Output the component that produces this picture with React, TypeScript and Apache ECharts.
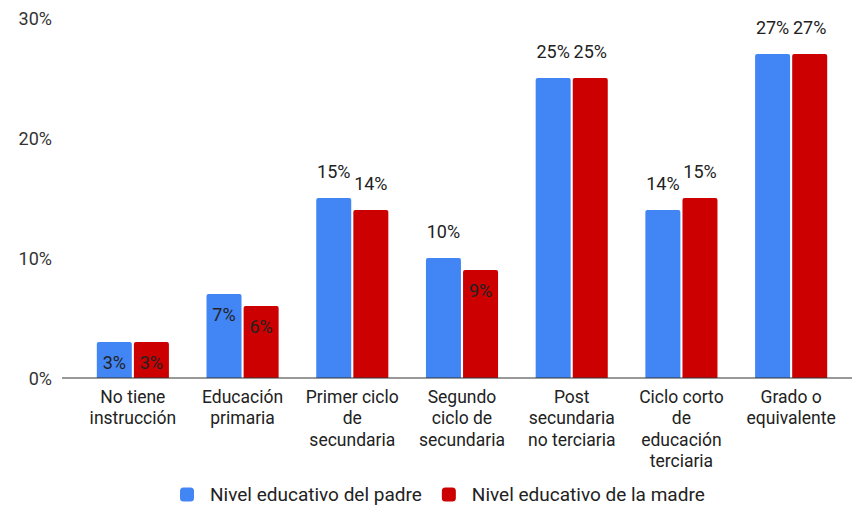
import React, { useEffect, useRef } from "react";
import * as echarts from "echarts";

const categories = [
  "No tiene\ninstrucción",
  "Educación\nprimaria",
  "Primer ciclo\nde\nsecundaria",
  "Segundo\nciclo de\nsecundaria",
  "Post\nsecundaria\nno terciaria",
  "Ciclo corto\nde\neducación\nterciaria",
  "Grado o\nequivalente",
];
const padre = [3, 7, 15, 10, 25, 14, 27];
const madre = [3, 6, 14, 9, 25, 15, 27];
const yTicks = [0, 10, 20, 30];
const seriesNames = ["Nivel educativo del padre", "Nivel educativo de la madre"];
const colors = ["#4285F4", "#CC0000"];

const FONT = "Roboto, Arial, sans-serif";

function toData(values: number[]) {
  return values.map((v) => ({
    value: v,
    label:
      v < 10
        ? { position: "insideTop", distance: 11 }
        : { position: "top", distance: 18 },
  }));
}

export default function App() {
  const ref = useRef<HTMLDivElement>(null);
  useEffect(() => {
    document.body.style.margin = "0";
    if (!ref.current) return;
    const chart = echarts.init(ref.current, null, { renderer: "svg" });
    chart.setOption({
      animation: false,
      backgroundColor: "#ffffff",
      textStyle: { fontFamily: FONT },
      grid: { left: 78, right: 8, top: 18, bottom: 134, containLabel: false },
      graphic: [
        {
          type: "line",
          shape: { x1: 62, y1: 378, x2: 852, y2: 378 },
          style: { stroke: "#333333", lineWidth: 1 },
          z: 10,
        },
      ],
      legend: {
        bottom: 3,
        left: 175,
        itemWidth: 14,
        itemHeight: 14,
        itemGap: 20,
        icon: "roundRect",
        data: seriesNames,
        textStyle: {
          fontFamily: FONT,
          fontSize: 19,
          color: "#222222",
          padding: [0, 0, 0, 11],
        },
      },
      xAxis: {
        type: "category",
        data: categories,
        axisLine: { show: false },
        axisTick: { show: false },
        axisLabel: {
          interval: 0,
          fontFamily: FONT,
          fontSize: 17.5,
          color: "#222222",
          lineHeight: 21.5,
          margin: 8,
        },
      },
      yAxis: {
        type: "value",
        min: yTicks[0],
        max: yTicks[yTicks.length - 1],
        interval: 10,
        splitLine: { show: false },
        axisLine: { show: false },
        axisTick: { show: false },
        axisLabel: {
          formatter: "{value}%",
          fontFamily: FONT,
          fontSize: 18,
          color: "#333333",
          margin: 26,
        },
      },
      series: [padre, madre].map((vals, i) => ({
        name: seriesNames[i],
        type: "bar",
        data: toData(vals),
        barWidth: 35,
        barGap: "6%",
        itemStyle: { color: colors[i], borderRadius: [2, 2, 0, 0] },
        label: {
          show: true,
          formatter: "{c}%",
          fontFamily: FONT,
          fontSize: 18,
          color: "#222222",
        },
      })),
    });
    return () => chart.dispose();
  }, []);
  return <div ref={ref} style={{ width: 854, height: 512 }} />;
}
